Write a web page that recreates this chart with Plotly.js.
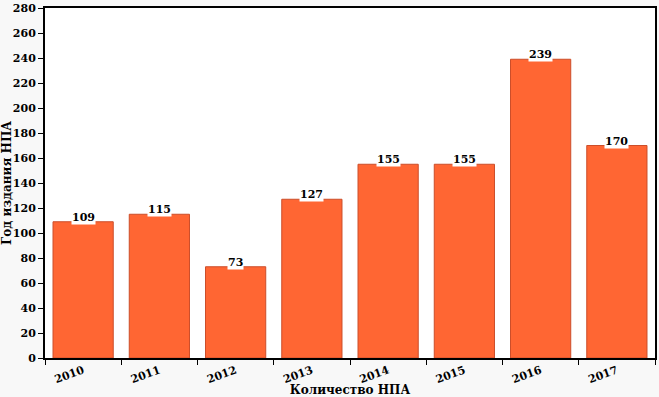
<!DOCTYPE html>
<html><head><meta charset="utf-8">
<script src="https://cdn.plot.ly/plotly-3.0.1.min.js"></script>
<style>html,body{margin:0;padding:0;background:#f8f8f8;}#chart{width:659px;height:397px;}</style>
</head><body><div id="chart"></div>
<script>
const years = ['2010','2011','2012','2013','2014','2015','2016','2017'];
const counts = [109, 115, 73, 127, 155, 155, 239, 170];
const yTicks = [0,20,40,60,80,100,120,140,160,180,200,220,240,260,280];

const fontFam = '"DejaVu Serif", "Liberation Serif", serif';

const trace = {
  type: 'bar',
  x: years,
  y: counts,
  marker: {color: '#ff6633', line: {color: '#cc4e2a', width: 1}},
  hoverinfo: 'none'
};

const annotations = years.map((yr, i) => ({
  x: i, y: counts[i], xref: 'x', yref: 'y',
  text: String(counts[i]), showarrow: false,
  yanchor: 'bottom', yshift: -3,
  bgcolor: '#ffffff', borderpad: 0,
  font: {family: fontFam, size: 11, color: '#000', weight: 'bold'}
}));

const layout = {
  width: 659, height: 397,
  margin: {l: 45, r: 4, t: 8, b: 39},
  paper_bgcolor: '#f8f8f8',
  plot_bgcolor: '#ffffff',
  bargap: 0.21,
  showlegend: false,
  font: {family: fontFam, color: '#000', size: 11, weight: 'bold'},
  xaxis: {
    type: 'category',
    tickson: 'boundaries',
    ticks: 'outside', ticklen: 5, tickcolor: '#000', tickwidth: 1,
    tickangle: -20,
    showline: true, linecolor: '#000', linewidth: 2, mirror: true,
    showgrid: false, zeroline: false,
    tickfont: {family: fontFam, size: 11, weight: 'bold'},
    title: {text: 'Количество НПА', font: {family: fontFam, size: 12, weight: 'bold'}, standoff: 4}
  },
  yaxis: {
    range: [0, 280],
    tickvals: yTicks,
    ticktext: yTicks.map(String),
    ticks: 'outside', ticklen: 5, tickcolor: '#000', tickwidth: 1,
    showline: true, linecolor: '#000', linewidth: 2, mirror: true,
    showgrid: false, zeroline: false,
    tickfont: {family: fontFam, size: 11, weight: 'bold'},
    title: {text: 'Год издания НПА', font: {family: fontFam, size: 12, weight: 'bold'}, standoff: 6}
  },
  annotations: annotations
};

Plotly.newPlot('chart', [trace], layout, {displayModeBar: false, staticPlot: true});
</script></body></html>
